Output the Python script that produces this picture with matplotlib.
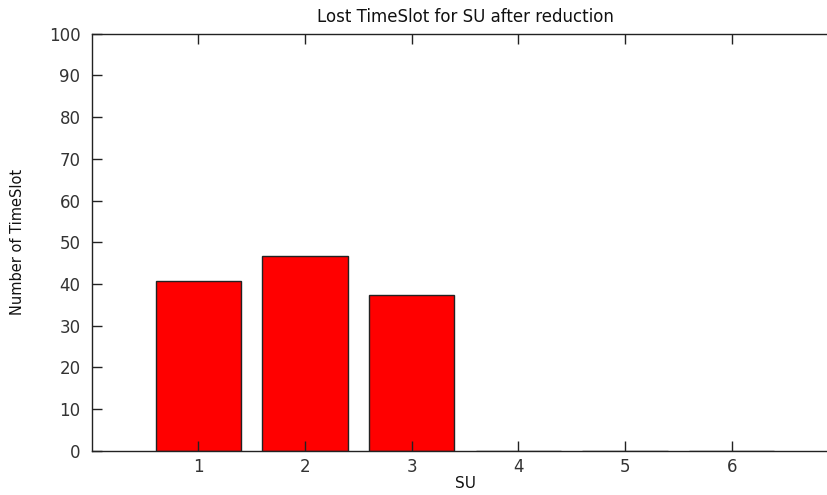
import matplotlib
matplotlib.use("Agg")
import matplotlib.pyplot as plt

su = [1, 2, 3, 4, 5, 6]
lost_slots = [40.8, 46.6, 37.3, 0, 0, 0]
y_ticks = list(range(0, 101, 10))

plt.rcParams['font.family'] = ['DejaVu Sans']

fig = plt.figure(figsize=(8.28, 4.95), dpi=100)
# axes run from x=0 to x=7; the right part falls past the figure edge
ax = fig.add_axes([0.1106, 0.0889, 0.902, 0.8434])

ax.bar(su, lost_slots, width=0.8, color='#ff0000', edgecolor='#222222', linewidth=1.0)

ax.set_xlim(0, 7)
ax.set_ylim(0, 100)
ax.set_xticks(su)
ax.set_yticks(y_ticks)

for s in ax.spines.values():
    s.set_linewidth(1.0)
    s.set_color('#222222')
ax.spines['right'].set_visible(False)

ax.tick_params(direction='in', length=7, width=1.0, color='#222222',
               labelsize=12, labelcolor='#333333', top=True, right=False)
ax.tick_params(axis='y', pad=8)
ax.tick_params(axis='x', pad=5)

ax.set_title('Lost TimeSlot for SU after reduction', fontsize=12, pad=8, color='#111111')
ax.set_xlabel('SU', fontsize=11, labelpad=0, color='#111111')
ax.set_ylabel('Number of TimeSlot', fontsize=10.5, labelpad=17, color='#111111')

fig.savefig('out.png', dpi=100)
